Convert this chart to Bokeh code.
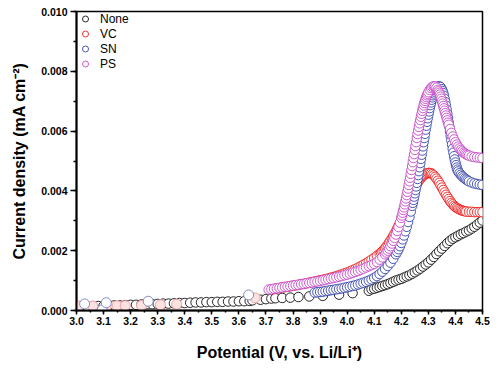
from bokeh.plotting import figure
from bokeh.models import Range1d, SingleIntervalTicker, NumeralTickFormatter, Legend, LegendItem
from bokeh.embed import file_html
from bokeh.resources import INLINE

# ---------------- data ----------------
NONE_V = [3.00, 3.02, 3.04, 3.06, 3.08, 3.10, 3.12, 3.14, 3.16, 3.18,
          3.20, 3.22, 3.24, 3.26, 3.28, 3.30, 3.32, 3.34, 3.36, 3.38,
          3.40, 3.42, 3.44, 3.46, 3.48, 3.50, 3.52, 3.54, 3.56, 3.58,
          3.60, 3.62, 3.64, 3.65, 3.68, 3.70, 3.72, 3.735, 3.76, 3.79,
          3.82, 3.86, 3.91, 3.97, 4.02, 4.08, 4.09, 4.10, 4.11, 4.12,
          4.13, 4.14, 4.15, 4.16, 4.17, 4.18, 4.19, 4.20, 4.21, 4.22,
          4.23, 4.24, 4.25, 4.26, 4.27, 4.28, 4.29, 4.30, 4.31, 4.32,
          4.33, 4.34, 4.35, 4.36, 4.37, 4.38, 4.39, 4.40, 4.41, 4.42,
          4.43, 4.44, 4.45, 4.46, 4.47, 4.48, 4.49, 4.50]
NONE_I = [0.00012, 0.00013, 0.00013, 0.00014, 0.00015, 0.00015, 0.00016, 0.00017, 0.00017, 0.00018,
          0.00019, 0.00019, 0.00020, 0.00021, 0.00021, 0.00022, 0.00023, 0.00023, 0.00024, 0.00025,
          0.00025, 0.00026, 0.00027, 0.00027, 0.00028, 0.00028, 0.00029, 0.00029, 0.00030, 0.00030,
          0.00031, 0.00031, 0.00032, 0.00034, 0.00036, 0.00038, 0.00040, 0.00041, 0.00042, 0.00043,
          0.00045, 0.00047, 0.00049, 0.00053, 0.00058, 0.00066, 0.00071, 0.00073, 0.00076, 0.00079,
          0.00082, 0.00085, 0.00088, 0.00092, 0.00096, 0.00100, 0.00103, 0.00106, 0.00110, 0.00114,
          0.00118, 0.00123, 0.00128, 0.00134, 0.00140, 0.00147, 0.00154, 0.00161, 0.00170, 0.00179,
          0.00189, 0.00198, 0.00207, 0.00216, 0.00225, 0.00233, 0.00240, 0.00245, 0.00250, 0.00255,
          0.00259, 0.00264, 0.00268, 0.00274, 0.00280, 0.00287, 0.00294, 0.00301]

VC_EARLY_V = [3.01, 3.06, 3.11, 3.15, 3.18, 3.24, 3.31, 3.37, 3.66]
VC_EARLY_I = [0.00015, 0.00015, 0.00015, 0.00016, 0.00016, 0.00017, 0.00019, 0.00021, 0.00042]

VC_V = [3.72, 3.73, 3.74, 3.75, 3.76, 3.77, 3.78, 3.79, 3.80, 3.81,
        3.82, 3.83, 3.84, 3.85, 3.86, 3.87, 3.88, 3.89, 3.90, 3.91,
        3.92, 3.93, 3.94, 3.95, 3.96, 3.97, 3.98, 3.99, 4.00, 4.01,
        4.02, 4.03, 4.04, 4.05, 4.06, 4.07, 4.08, 4.09, 4.10, 4.11,
        4.12, 4.125, 4.13, 4.135, 4.14, 4.145, 4.15, 4.155, 4.16, 4.165,
        4.17, 4.175, 4.18, 4.185, 4.19, 4.195, 4.20, 4.205, 4.21, 4.215,
        4.22, 4.225, 4.23, 4.235, 4.24, 4.245, 4.25, 4.255, 4.26, 4.265,
        4.27, 4.275, 4.28, 4.285, 4.29, 4.295, 4.30, 4.305, 4.31, 4.315,
        4.32, 4.325, 4.33, 4.335, 4.34, 4.345, 4.35, 4.355, 4.36, 4.365,
        4.37, 4.375, 4.38, 4.385, 4.39, 4.395, 4.40, 4.405, 4.41, 4.415,
        4.42, 4.425, 4.43, 4.435, 4.44, 4.45, 4.46, 4.47, 4.48, 4.49,
        4.50]
VC_I = [0.00071, 0.00072, 0.00074, 0.00075, 0.00077, 0.00078, 0.00080, 0.00081, 0.00083, 0.00084,
        0.00086, 0.00088, 0.00089, 0.00091, 0.00093, 0.00095, 0.00097, 0.00099, 0.00101, 0.00103,
        0.00105, 0.00107, 0.00110, 0.00112, 0.00115, 0.00118, 0.00121, 0.00124, 0.00127, 0.00131,
        0.00135, 0.00139, 0.00143, 0.00148, 0.00153, 0.00158, 0.00164, 0.00170, 0.00176, 0.00183,
        0.00190, 0.00194, 0.00198, 0.00203, 0.00208, 0.00214, 0.00220, 0.00227, 0.00234, 0.00241,
        0.00249, 0.00257, 0.00265, 0.00274, 0.00283, 0.00293, 0.00303, 0.00313, 0.00323, 0.00334,
        0.00345, 0.00356, 0.00367, 0.00378, 0.00389, 0.00399, 0.00409, 0.00418, 0.00426, 0.00434,
        0.00440, 0.00446, 0.00450, 0.00454, 0.00457, 0.00459, 0.00460, 0.00460, 0.00459, 0.00456,
        0.00452, 0.00447, 0.00441, 0.00434, 0.00427, 0.00419, 0.00411, 0.00403, 0.00395, 0.00387,
        0.00380, 0.00373, 0.00366, 0.00360, 0.00355, 0.00350, 0.00346, 0.00343, 0.00340, 0.00338,
        0.00336, 0.00334, 0.00333, 0.00332, 0.00331, 0.00330, 0.00330, 0.00329, 0.00329, 0.00329,
        0.00329]

SN_EARLY_V = [3.03, 3.095, 3.11, 3.265, 3.636]
SN_EARLY_I = [0.00022, 0.00002, 0.00026, 0.00031, 0.00052]

SN_V = [3.88, 3.89, 3.90, 3.91, 3.92, 3.93, 3.94, 3.95, 3.96, 3.97,
        3.98, 3.99, 4.00, 4.01, 4.02, 4.03, 4.04, 4.05, 4.06, 4.07,
        4.08, 4.09, 4.10, 4.11, 4.12, 4.13, 4.14, 4.15, 4.16, 4.17,
        4.18, 4.185, 4.19, 4.195, 4.20, 4.205, 4.21, 4.215, 4.22, 4.225,
        4.23, 4.235, 4.24, 4.2425, 4.2450, 4.2475, 4.2500, 4.2525, 4.2550, 4.2575,
        4.2600, 4.2625, 4.2650, 4.2675, 4.2700, 4.2725, 4.2750, 4.2775, 4.2800, 4.2825,
        4.2850, 4.2875, 4.2900, 4.2925, 4.2950, 4.2975, 4.3000, 4.3025, 4.3050, 4.3075,
        4.3100, 4.3125, 4.3150, 4.3175, 4.3200, 4.3225, 4.3250, 4.3275, 4.3300, 4.335,
        4.34, 4.345, 4.35, 4.3525, 4.3550, 4.3575, 4.3600, 4.3625, 4.3650, 4.3675,
        4.3700, 4.3725, 4.3750, 4.3775, 4.3800, 4.3825, 4.3850, 4.3875, 4.3900, 4.3925,
        4.3950, 4.3975, 4.4000, 4.4025, 4.4050, 4.4075, 4.4100, 4.415, 4.42, 4.425,
        4.43, 4.435, 4.44, 4.445, 4.45, 4.46, 4.47, 4.48, 4.49, 4.50]
SN_I = [0.00060, 0.00061, 0.00062, 0.00063, 0.00065, 0.00066, 0.00068, 0.00069, 0.00071, 0.00072,
        0.00074, 0.00076, 0.00078, 0.00080, 0.00082, 0.00084, 0.00087, 0.00090, 0.00093, 0.00096,
        0.00100, 0.00104, 0.00109, 0.00115, 0.00122, 0.00130, 0.00139, 0.00149, 0.00160, 0.00173,
        0.00188, 0.00196, 0.00205, 0.00215, 0.00226, 0.00238, 0.00251, 0.00265, 0.00280, 0.00296,
        0.00313, 0.00331, 0.00350, 0.00360, 0.00370, 0.00381, 0.00392, 0.00403, 0.00415, 0.00427,
        0.00440, 0.00453, 0.00466, 0.00479, 0.00493, 0.00507, 0.00521, 0.00535, 0.00549, 0.00563,
        0.00577, 0.00591, 0.00605, 0.00618, 0.00631, 0.00643, 0.00655, 0.00666, 0.00677, 0.00687,
        0.00696, 0.00705, 0.00713, 0.00720, 0.00726, 0.00732, 0.00737, 0.00741, 0.00745, 0.00749,
        0.00750, 0.00747, 0.00740, 0.00734, 0.00727, 0.00718, 0.00708, 0.00697, 0.00685, 0.00672,
        0.00658, 0.00644, 0.00629, 0.00614, 0.00599, 0.00584, 0.00569, 0.00555, 0.00541, 0.00528,
        0.00516, 0.00505, 0.00495, 0.00486, 0.00478, 0.00471, 0.00465, 0.00459, 0.00454, 0.00449,
        0.00445, 0.00441, 0.00438, 0.00435, 0.00432, 0.00428, 0.00425, 0.00423, 0.00421, 0.00420]

PS_V = [3.71, 3.72, 3.73, 3.74, 3.75, 3.76, 3.77, 3.78, 3.79, 3.80,
        3.81, 3.82, 3.83, 3.84, 3.85, 3.86, 3.87, 3.88, 3.89, 3.90,
        3.91, 3.92, 3.93, 3.94, 3.95, 3.96, 3.97, 3.98, 3.99, 4.00,
        4.01, 4.02, 4.03, 4.04, 4.05, 4.06, 4.07, 4.08, 4.09, 4.10,
        4.11, 4.12, 4.13, 4.14, 4.145, 4.15, 4.155, 4.16, 4.165, 4.17,
        4.175, 4.18, 4.185, 4.19, 4.195,
        4.2000, 4.2025, 4.2050, 4.2075, 4.2100, 4.2125, 4.2150, 4.2175, 4.2200, 4.2225,
        4.2250, 4.2275, 4.2300, 4.2325, 4.2350, 4.2375, 4.2400, 4.2425, 4.2450, 4.2475,
        4.2500, 4.2525, 4.2550, 4.2575, 4.2600, 4.2625, 4.2650, 4.2675, 4.2700, 4.2725,
        4.2750, 4.2775, 4.2800, 4.2825, 4.2850, 4.2875, 4.2900, 4.2925, 4.2950, 4.2975,
        4.3000, 4.305, 4.31, 4.315, 4.32, 4.325, 4.33,
        4.3350, 4.3375, 4.3400, 4.3425, 4.3450, 4.3475, 4.3500, 4.3525, 4.3550, 4.3575,
        4.3600, 4.3625, 4.3650, 4.3675, 4.3700, 4.3725, 4.3750,
        4.38, 4.385, 4.39, 4.395, 4.40, 4.405, 4.41, 4.415, 4.42, 4.425,
        4.43, 4.435, 4.44, 4.445, 4.45, 4.46, 4.47, 4.48, 4.49, 4.50]
PS_I = [0.00070, 0.00071, 0.00073, 0.00074, 0.00076, 0.00077, 0.00079, 0.00080, 0.00082, 0.00083,
        0.00085, 0.00086, 0.00088, 0.00089, 0.00091, 0.00092, 0.00094, 0.00096, 0.00097, 0.00099,
        0.00101, 0.00103, 0.00105, 0.00107, 0.00109, 0.00111, 0.00113, 0.00115, 0.00118, 0.00120,
        0.00123, 0.00126, 0.00129, 0.00132, 0.00136, 0.00140, 0.00144, 0.00148, 0.00152, 0.00156,
        0.00162, 0.00170, 0.00178, 0.00188, 0.00194, 0.00200, 0.00207, 0.00215, 0.00224, 0.00233,
        0.00243, 0.00254, 0.00266, 0.00279, 0.00294,
        0.00310, 0.00318, 0.00327, 0.00336, 0.00345, 0.00355, 0.00365, 0.00375, 0.00386, 0.00397,
        0.00408, 0.00420, 0.00432, 0.00444, 0.00457, 0.00470, 0.00483, 0.00496, 0.00510, 0.00523,
        0.00537, 0.00550, 0.00563, 0.00577, 0.00590, 0.00602, 0.00614, 0.00626, 0.00637, 0.00648,
        0.00658, 0.00668, 0.00677, 0.00686, 0.00694, 0.00701, 0.00708, 0.00714, 0.00720, 0.00725,
        0.00730, 0.00738, 0.00744, 0.00748, 0.00750, 0.00749, 0.00745,
        0.00738, 0.00733, 0.00728, 0.00722, 0.00715, 0.00708, 0.00700, 0.00692, 0.00684, 0.00676,
        0.00668, 0.00660, 0.00652, 0.00644, 0.00636, 0.00628, 0.00621,
        0.00607, 0.00594, 0.00582, 0.00572, 0.00563, 0.00555, 0.00548, 0.00542, 0.00537, 0.00532,
        0.00528, 0.00525, 0.00522, 0.00520, 0.00518, 0.00515, 0.00513, 0.00512, 0.00511, 0.00510]

SERIES_NAMES = ["None", "VC", "SN", "PS"]
SERIES_COLORS = ["#111111", "#ee1c1c", "#3444a8", "#c548c5"]

X_LABEL = "Potential (V, vs. Li/Li\u207a)"
Y_LABEL = "Current density (mA cm\u207b\u00b2)"

FONT = "Liberation Sans"

# ---------------- figure ----------------
p = figure(width=496, height=365, output_backend="svg", toolbar_location=None,
           x_range=Range1d(3.0, 4.5), y_range=Range1d(0.0, 0.010),
           min_border_left=76, min_border_right=14, min_border_top=11,
           min_border_bottom=55)
p.xgrid.visible = False
p.ygrid.visible = False
p.outline_line_color = "black"
p.outline_line_width = 1.5
p.background_fill_color = "white"
p.border_fill_color = "white"

p.xaxis.ticker = SingleIntervalTicker(interval=0.1, num_minor_ticks=2)
p.yaxis.ticker = SingleIntervalTicker(interval=0.002, num_minor_ticks=2)
p.xaxis.formatter = NumeralTickFormatter(format="0.0")
p.yaxis.formatter = NumeralTickFormatter(format="0.000")
p.xaxis.axis_label = X_LABEL
p.yaxis.axis_label = Y_LABEL

for ax in (p.xaxis, p.yaxis):
    ax.axis_line_width = 2
    ax.axis_line_color = "black"
    ax.major_tick_line_width = 1.5
    ax.minor_tick_line_width = 1.5
    ax.major_tick_in = 0
    ax.minor_tick_in = 0
    ax.major_label_text_font = FONT
    ax.major_label_text_font_style = "bold"
    ax.major_label_text_font_size = "10.5px"
    ax.major_label_text_color = "black"
    ax.axis_label_text_font = FONT
    ax.axis_label_text_font_style = "bold"
    ax.axis_label_text_font_size = "16px"
    ax.axis_label_text_color = "black"

p.xaxis.major_tick_out = 4
p.xaxis.minor_tick_out = 2
p.xaxis.major_label_standoff = 2
p.xaxis.axis_label_standoff = 16
p.yaxis.major_tick_out = 6
p.yaxis.minor_tick_out = 3
p.yaxis.major_label_standoff = 3
p.yaxis.axis_label_standoff = 10

MS = 9.5
LW = 1.0

r_none = p.scatter(NONE_V, NONE_I, marker="circle", size=MS, line_color=SERIES_COLORS[0],
                   fill_color="white", line_width=LW, line_alpha=0.9)
p.scatter(VC_EARLY_V, VC_EARLY_I, marker="circle", size=MS + 0.5, line_color="#f2a0a0",
          fill_color="#fde2e2", line_width=LW)
r_vc = p.scatter(VC_V, VC_I, marker="circle", size=MS, line_color=SERIES_COLORS[1],
                 fill_color="white", line_width=LW, line_alpha=0.9)
p.scatter(SN_EARLY_V, SN_EARLY_I, marker="circle", size=MS + 0.5, line_color="#7f8cc4",
          fill_color="white", line_width=LW)
r_sn = p.scatter(SN_V, SN_I, marker="circle", size=MS, line_color=SERIES_COLORS[2],
                 fill_color="white", line_width=LW, line_alpha=0.9)
r_ps = p.scatter(PS_V, PS_I, marker="circle", size=MS, line_color=SERIES_COLORS[3],
                 fill_color="white", line_width=LW, line_alpha=0.9)

legend = Legend(items=[LegendItem(label=n, renderers=[r]) for n, r in
                       zip(SERIES_NAMES, [r_none, r_vc, r_sn, r_ps])],
                location="top_left", margin=0, padding=2, spacing=0,
                glyph_width=18, glyph_height=15, label_height=15, label_standoff=6,
                border_line_color=None, background_fill_alpha=0,
                label_text_font=FONT, label_text_font_size="12px",
                label_text_color="black")
p.add_layout(legend)

open("out.html", "w").write(file_html(p, INLINE))
